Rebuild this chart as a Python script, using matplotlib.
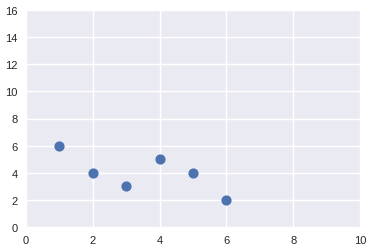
import matplotlib
matplotlib.use("Agg")
import matplotlib.pyplot as plt

x_values = [1, 2, 3, 4, 5, 6]
y_values = [6, 4, 3, 5, 4, 2]

plt.rcParams['font.family'] = ['Liberation Sans', 'DejaVu Sans']
fig = plt.figure(figsize=(3.73, 2.51), dpi=100)
ax = fig.add_axes([26/373, 1 - 228/251, (360-26)/373, (228-11)/251])
ax.set_facecolor('#EAEAF2')
for s in ax.spines.values():
    s.set_visible(False)
ax.grid(True, color='white', linewidth=1)
ax.set_axisbelow(True)
ax.scatter(x_values, y_values, s=40, color='#4C72B0', zorder=3)
ax.set_xlim(0, 10)
ax.set_ylim(0, 16)
ax.set_xticks([0, 2, 4, 6, 8, 10])
ax.set_yticks(range(0, 17, 2))
ax.tick_params(length=0, labelsize=8, colors='#262626', pad=6)
fig.savefig('out.png', dpi=100)
